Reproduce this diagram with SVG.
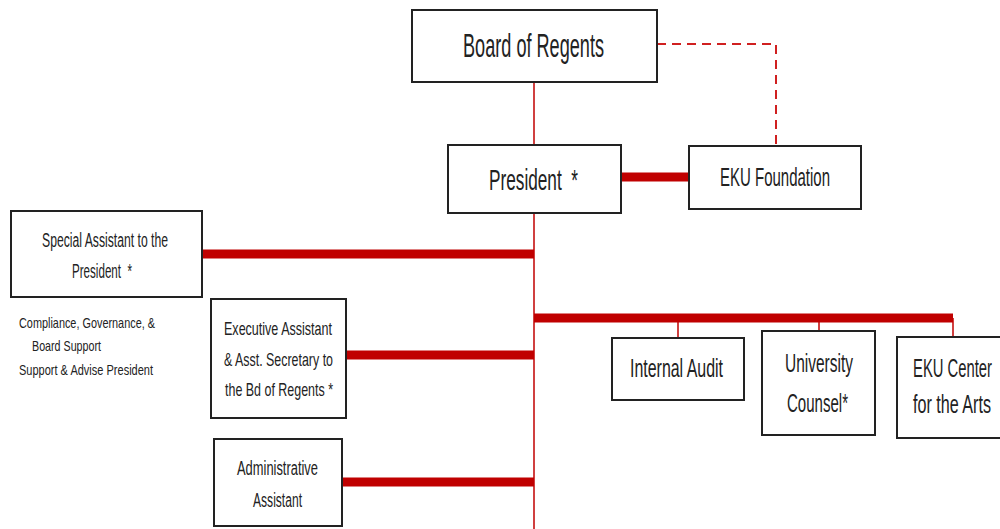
<svg xmlns="http://www.w3.org/2000/svg" width="1000" height="529" viewBox="0 0 1000 529">
<style>
.box{fill:#fff;stroke:#222;stroke-width:2}
.t{font-family:"Liberation Sans",Arial,sans-serif;fill:#222}
.thin{stroke:#c00000;stroke-width:1.5;fill:none}
.thick{stroke:#c00000;stroke-width:9;fill:none}
.dash{stroke:#d02020;stroke-width:2;fill:none;stroke-dasharray:9,6}
</style>
<rect width="1000" height="529" fill="#fff"/>
<g id="connectors">
<polyline class="dash" points="657,44 776,44 776,146"/>
<line class="thin" x1="534" y1="82" x2="534" y2="146"/>
<line class="thin" x1="534" y1="213" x2="534" y2="529"/>
<line class="thick" x1="621" y1="177" x2="690" y2="177" stroke-width="8"/>
<line class="thick" x1="202" y1="254" x2="534" y2="254"/>
<line class="thick" x1="346" y1="355" x2="534" y2="355"/>
<line class="thick" x1="342" y1="482" x2="534" y2="482"/>
<line class="thick" x1="534" y1="318" x2="953" y2="318"/>
<line class="thin" x1="678" y1="318" x2="678" y2="338"/>
<line class="thin" x1="819" y1="318" x2="819" y2="331"/>
<line class="thin" x1="953" y1="318" x2="953" y2="337"/>
</g>
<g id="board">
<rect class="box" x="412" y="10" width="245" height="72"/>
<text class="t" x="463" y="57" font-size="33" textLength="141" lengthAdjust="spacingAndGlyphs">Board of Regents</text>
</g>
<g id="president">
<rect class="box" x="448" y="145" width="173" height="68"/>
<text class="t" x="489" y="190" font-size="30" textLength="89" lengthAdjust="spacingAndGlyphs" xml:space="preserve">President  *</text>
</g>
<g id="foundation">
<rect class="box" x="689" y="146" width="172" height="63"/>
<text class="t" x="720" y="186" font-size="25" textLength="110" lengthAdjust="spacingAndGlyphs">EKU Foundation</text>
</g>
<g id="special">
<rect class="box" x="11" y="211" width="191" height="86"/>
<text class="t" x="42" y="247" font-size="20" textLength="126" lengthAdjust="spacingAndGlyphs">Special Assistant to the</text>
<text class="t" x="72" y="278" font-size="20" textLength="60" lengthAdjust="spacingAndGlyphs" xml:space="preserve">President  *</text>
<text class="t" x="19" y="328" font-size="15" textLength="136" lengthAdjust="spacingAndGlyphs">Compliance, Governance, &amp;</text>
<text class="t" x="32" y="351" font-size="15" textLength="69" lengthAdjust="spacingAndGlyphs">Board Support</text>
<text class="t" x="19" y="375" font-size="15" textLength="134" lengthAdjust="spacingAndGlyphs">Support &amp; Advise President</text>
</g>
<g id="executive">
<rect class="box" x="211" y="299" width="135" height="119"/>
<text class="t" x="224" y="335" font-size="19" textLength="108" lengthAdjust="spacingAndGlyphs">Executive Assistant</text>
<text class="t" x="224" y="366" font-size="19" textLength="109" lengthAdjust="spacingAndGlyphs">&amp; Asst. Secretary to</text>
<text class="t" x="225" y="396" font-size="19" textLength="108" lengthAdjust="spacingAndGlyphs">the Bd of Regents *</text>
</g>
<g id="admin">
<rect class="box" x="214" y="439" width="128" height="87"/>
<text class="t" x="237" y="475" font-size="20" textLength="81" lengthAdjust="spacingAndGlyphs">Administrative</text>
<text class="t" x="253" y="507" font-size="20" textLength="49" lengthAdjust="spacingAndGlyphs">Assistant</text>
</g>
<g id="audit">
<rect class="box" x="612" y="338" width="132" height="62"/>
<text class="t" x="630" y="377" font-size="25" textLength="93" lengthAdjust="spacingAndGlyphs">Internal Audit</text>
</g>
<g id="counsel">
<rect class="box" x="762" y="331" width="113" height="104"/>
<text class="t" x="785" y="372" font-size="25" textLength="68" lengthAdjust="spacingAndGlyphs">University</text>
<text class="t" x="787" y="412" font-size="25" textLength="61" lengthAdjust="spacingAndGlyphs">Counsel*</text>
</g>
<g id="arts">
<rect class="box" x="897" y="337" width="110" height="101"/>
<text class="t" x="913" y="377" font-size="25" textLength="79" lengthAdjust="spacingAndGlyphs">EKU Center</text>
<text class="t" x="913" y="413" font-size="25" textLength="78" lengthAdjust="spacingAndGlyphs">for the Arts</text>
</g>
</svg>
